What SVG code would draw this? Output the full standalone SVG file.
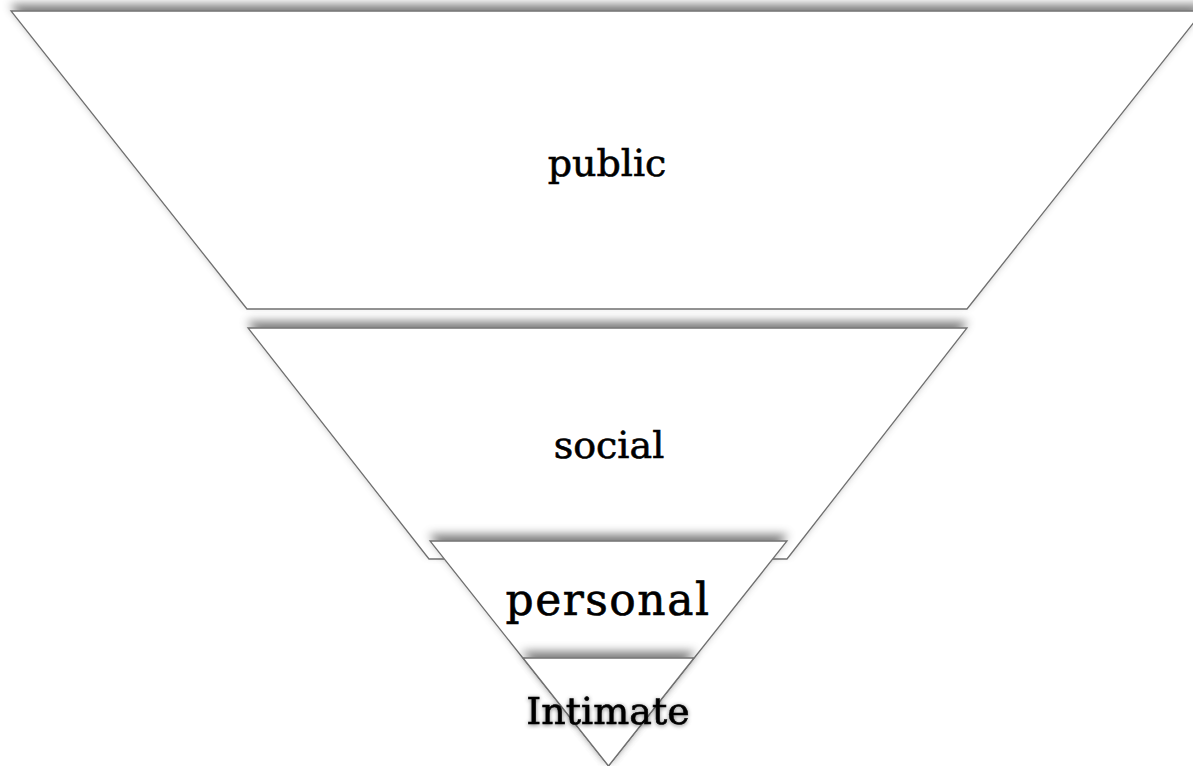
<svg xmlns="http://www.w3.org/2000/svg" width="1193" height="766" viewBox="0 0 1193 766">
  <defs>
    <!-- soft shadow cast upward from each band -->
    <filter id="upShadow" x="-5%" y="-15%" width="110%" height="130%">
      <feGaussianBlur in="SourceAlpha" stdDeviation="5" result="b"/>
      <feOffset in="b" dx="0" dy="-6" result="o"/>
      <feFlood flood-color="#000" flood-opacity="0.5"/>
      <feComposite in2="o" operator="in" result="s"/>
      <feMerge>
        <feMergeNode in="s"/>
        <feMergeNode in="SourceGraphic"/>
      </feMerge>
    </filter>
    <filter id="textGlow" x="-20%" y="-40%" width="140%" height="180%">
      <feGaussianBlur in="SourceAlpha" stdDeviation="2.2" result="b"/>
      <feOffset in="b" dx="0" dy="1" result="o"/>
      <feFlood flood-color="#000" flood-opacity="0.5"/>
      <feComposite in2="o" operator="in" result="s"/>
      <feMerge>
        <feMergeNode in="s"/>
        <feMergeNode in="SourceGraphic"/>
      </feMerge>
    </filter>
  </defs>
  <style>
    .band { fill: #ffffff; stroke: #707070; stroke-width: 1.3; stroke-linejoin: miter; }
    .label { font-family: "DejaVu Serif", "Liberation Serif", serif; font-size: 38px; fill: #000; stroke: #000; stroke-width: 0.6; text-anchor: middle; }
  </style>
  <rect width="1193" height="766" fill="#ffffff"/>

  <g id="public">
    <polygon class="band" filter="url(#upShadow)" points="11,11 1203,11 967,309 247,309"/>
    <text class="label" x="607" y="176">public</text>
  </g>

  <g id="social">
    <polygon class="band" filter="url(#upShadow)" points="248,328 967,328 787,559 429,559"/>
    <text class="label" x="609" y="458">social</text>
  </g>

  <g id="personal">
    <polygon class="band" filter="url(#upShadow)" points="430,541 787,541 608.5,766"/>
    <text class="label" x="608" y="615" style="font-size:44px; letter-spacing:1.5px">personal</text>
  </g>

  <g id="intimate">
    <polygon class="band" filter="url(#upShadow)" points="523,658 694,658 608.5,766"/>
    <text class="label" x="608" y="724" filter="url(#textGlow)">Intimate</text>
  </g>

  <g id="connectors"/>
</svg>
